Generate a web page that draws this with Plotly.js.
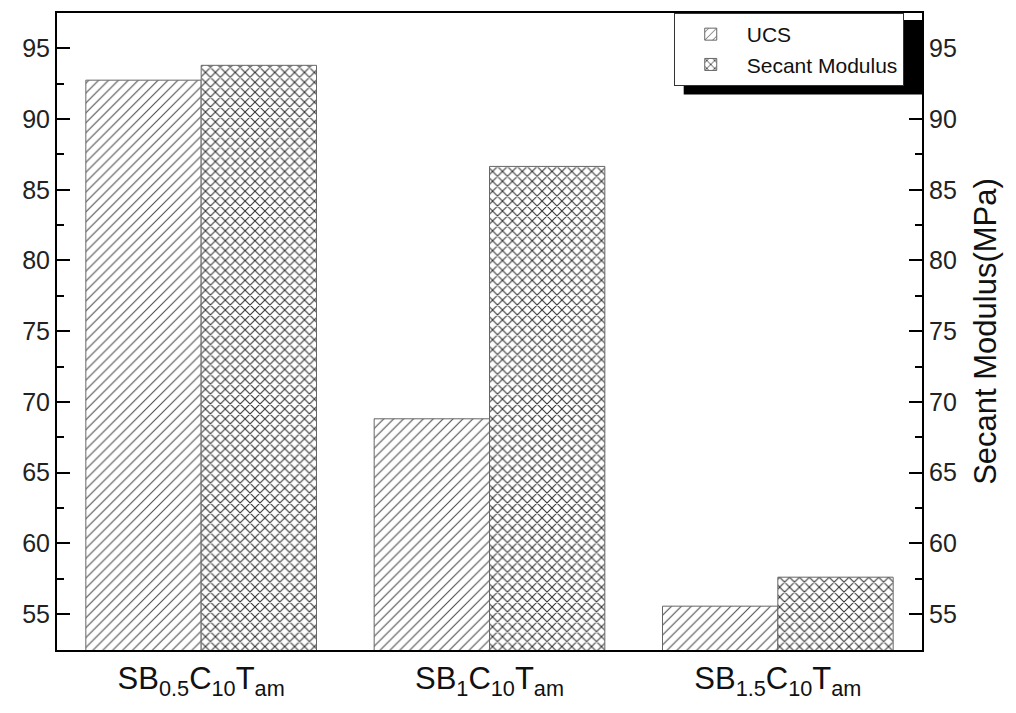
<!DOCTYPE html>
<html>
<head>
<meta charset="utf-8">
<script src="https://cdn.plot.ly/plotly-3.0.1.min.js"></script>
<style>html,body{margin:0;padding:0;background:#fff;}#chart{width:1016px;height:713px;}</style>
</head>
<body>
<div id="chart"></div>
<script>
const categories = ["SB<sub>0.5</sub>C<sub>10</sub>T<sub>am</sub>", "SB<sub>1</sub>C<sub>10</sub>T<sub>am</sub>", "SB<sub>1.5</sub>C<sub>10</sub>T<sub>am</sub>"];
const ucsValues = [92.75, 68.8, 55.55];
const secantValues = [93.8, 86.65, 57.6];
const seriesNames = ["UCS", "Secant Modulus"];
const yRange = [52.45, 97.5];
const yTicks = [55, 60, 65, 70, 75, 80, 85, 90, 95];

const FONT = "Liberation Sans, Arial, sans-serif";

const traces = [
  {
    type: "bar", name: seriesNames[0], x: categories, y: ucsValues,
    xaxis: "x", yaxis: "y", offsetgroup: "1",
    marker: {color: "#ffffff", line: {color: "#666666", width: 1},
      pattern: {shape: "/", fgcolor: "#4a4a4a", bgcolor: "#ffffff", size: 7, solidity: 0.15}},
    hoverinfo: "none"
  },
  {
    type: "bar", name: seriesNames[1], x: categories, y: secantValues,
    xaxis: "x", yaxis: "y2", offsetgroup: "2",
    marker: {color: "#ffffff", line: {color: "#666666", width: 1},
      pattern: {shape: "x", fgcolor: "#333333", bgcolor: "#ffffff", size: 7, solidity: 0.28}},
    hoverinfo: "none"
  }
];

const axisCommon = {
  range: yRange, tickmode: "array", tickvals: yTicks, ticktext: yTicks.map(String),
  ticks: "inside", ticklen: 13, tickwidth: 2, tickcolor: "#000",
  showline: true, linecolor: "#000", linewidth: 2, showgrid: false, zeroline: false,
  tickfont: {family: FONT, size: 25, color: "#222"},
  minor: {tickmode: "linear", tick0: 52.5, dtick: 5, ticks: "inside", ticklen: 7, tickwidth: 2, tickcolor: "#000", showgrid: false}
};

const layout = {
  width: 1016, height: 713,
  margin: {l: 57, r: 94, t: 13, b: 63},
  paper_bgcolor: "#fff", plot_bgcolor: "#fff",
  barmode: "group", bargap: 0.2, bargroupgap: 0,
  showlegend: true,
  font: {family: FONT, color: "#222"},
  xaxis: {
    range: [-0.5, 2.5], showline: true, mirror: true, linecolor: "#000", linewidth: 2,
    ticks: "", showgrid: false, zeroline: false,
    tickfont: {family: FONT, size: 31, color: "#111"}
  },
  yaxis: Object.assign({}, axisCommon, {side: "left"}),
  yaxis2: Object.assign({}, axisCommon, {side: "right", overlaying: "y", anchor: "x",
    title: {text: "Secant Modulus(MPa)", font: {family: FONT, size: 31, color: "#111"}, standoff: 18}}),
  legend: {
    x: 0.713, y: 1, xanchor: "left", yanchor: "top",
    bgcolor: "#fff", bordercolor: "#333", borderwidth: 1,
    font: {family: FONT, size: 21, color: "#111"},
    tracegroupgap: 0, itemwidth: 62
  },
  shapes: [
    {type: "rect", xref: "paper", yref: "paper", x0: 0.7245, x1: 1.0, y0: 0.872, y1: 0.989,
     fillcolor: "#000", line: {width: 0}, layer: "above"}
  ]
};

Plotly.newPlot("chart", traces, layout, {displayModeBar: false, staticPlot: true});
</script>
</body>
</html>
